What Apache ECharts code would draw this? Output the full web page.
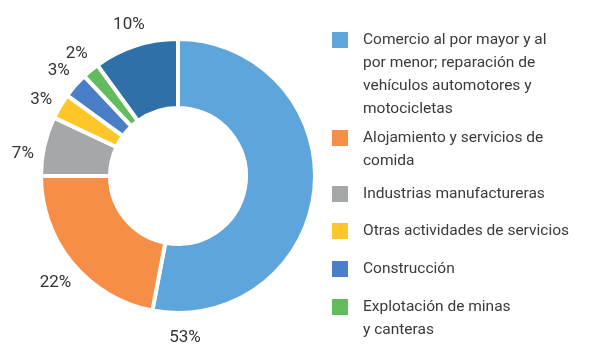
<!DOCTYPE html>
<html>
<head>
<meta charset="utf-8">
<script src="https://cdn.jsdelivr.net/npm/echarts@6/dist/echarts.min.js"></script>
<style>
  html, body { margin: 0; padding: 0; background: #fff; }
  #chart { width: 589px; height: 359px; }
</style>
</head>
<body>
<div id="chart"></div>
<script>
// sectores (sentido horario desde arriba)
const categories = [
  'Comercio al por mayor y al por menor; reparación de vehículos automotores y motocicletas',
  'Alojamiento y servicios de comida',
  'Industrias manufactureras',
  'Otras actividades de servicios',
  'Construcción',
  'Explotación de minas y canteras',
  'Otros'
];
const shares = [53, 22, 7, 3, 3, 2, 10];
const colors = ['#5DA5DA', '#F68E48', '#A5A7AA', '#FFC629', '#4A7EC7', '#63BB5E', '#2F70A9'];

// texto de la leyenda (el último sector no aparece)
const legendLabels = [
  'Comercio al por mayor y al\npor menor; reparación de\nvehículos automotores y\nmotocicletas',
  'Alojamiento y servicios de\ncomida',
  'Industrias manufactureras',
  'Otras actividades de servicios',
  'Construcción',
  'Explotación de minas\ny canteras'
];

const LINE = 23;                                   // alto de línea leyenda
const iconTops = [31, 129, 185, 222, 260, 298];    // posición de cada cuadro

const chart = echarts.init(document.getElementById('chart'), null, { renderer: 'canvas' });

// una leyenda por elemento; se añaden líneas vacías arriba para que
// el cuadro quede alineado con la primera línea del texto
const legends = legendLabels.map((txt, i) => {
  const n = txt.split('\n').length;
  return {
    orient: 'vertical',
    left: 330,
    top: iconTops[i] - ((2 * n - 1) * LINE / 2 - 9),
    padding: 0,
    icon: 'rect',
    itemWidth: 18,
    itemHeight: 18,
    selectedMode: false,
    formatter: () => '\n'.repeat(n - 1) + txt,
    textStyle: {
      fontFamily: 'Roboto',
      fontSize: 15.5,
      color: '#3a3a3a',
      lineHeight: LINE,
      padding: [0, 0, 0, 9]
    },
    data: [categories[i]]
  };
});

const option = {
  animation: false,
  legend: legends,
  series: [{
    type: 'pie',
    center: [178, 176],
    radius: [68, 137],
    startAngle: 90,
    clockwise: true,
    avoidLabelOverlap: false,
    emphasis: { disabled: true },
    itemStyle: { borderColor: '#fff', borderWidth: 4 },
    label: {
      position: 'outside',
      formatter: '{c}%',
      fontFamily: 'Roboto',
      fontSize: 17,
      color: '#333',
      distanceToLabelLine: 0
    },
    labelLine: { show: false, length: 22, length2: 0 },
    labelLayout: p => {
      if (p.dataIndex === 0) {
        return { x: 185, y: 338, align: 'center', verticalAlign: 'middle' };   // 53% va debajo
      }
      const nudge = { 1: 5, 2: 12, 3: 5 };
      return { dy: nudge[p.dataIndex] || 0, align: 'center', verticalAlign: 'middle' };
    },
    data: categories.map((name, i) => ({
      name,
      value: shares[i],
      itemStyle: { color: colors[i] }
    }))
  }]
};

chart.setOption(option);
</script>
</body>
</html>
